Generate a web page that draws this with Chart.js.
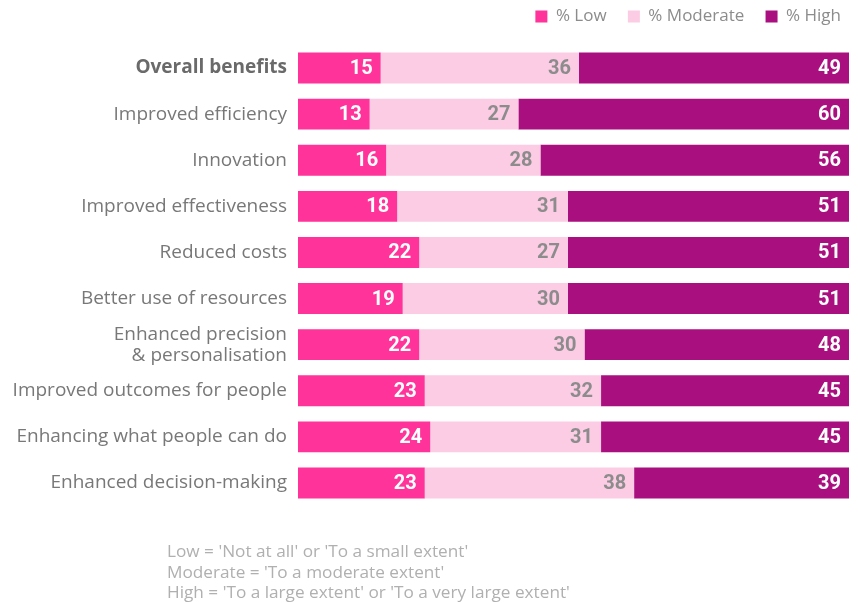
<!DOCTYPE html>
<html>
<head>
<meta charset="utf-8">
<script src="https://cdn.jsdelivr.net/npm/chart.js@4"></script>
<style>
  html, body { margin: 0; padding: 0; background: #fff; }
  #wrap { position: relative; width: 858px; height: 603px; }
  #note { position: absolute; left: 167px; top: 541px; font: 17.2px "Open Sans", sans-serif; color: #b0b0b0; line-height: 20.5px; }
</style>
</head>
<body>
<div id="wrap">
  <canvas id="chart1"></canvas>
  <div id="note">Low = 'Not at all' or 'To a small extent'<br>Moderate = 'To a moderate extent'<br>High = 'To a large extent' or 'To a very large extent'</div>
</div>
<script>
  // Survey: extent of benefits (%)
  const categories = ["Overall benefits", "Improved efficiency", "Innovation", "Improved effectiveness", "Reduced costs",
    "Better use of resources", ["Enhanced precision", "& personalisation"], "Improved outcomes for people",
    "Enhancing what people can do", "Enhanced decision-making"];
  const lowValues = [15, 13, 16, 18, 22, 19, 22, 23, 24, 23];
  const moderateValues = [36, 27, 28, 31, 27, 30, 30, 32, 31, 38];
  const highValues = [49, 60, 56, 51, 51, 51, 48, 45, 45, 39];

  // labels drawn at the inner right end of each segment
  const barLabels = {
    id: "barLabels",
    beforeLayout(chart) {
      // a bit more room under the legend
      const lg = chart.legend;
      if (lg && !lg._extra) {
        const fit = lg.fit.bind(lg);
        lg.fit = function() { fit(); this.height += 10; };
        lg._extra = true;
      }
    },
    afterDatasetsDraw(chart) {
      const ctx = chart.ctx;
      ctx.save();
      ctx.font = "bold 20px Roboto, sans-serif";
      ctx.textAlign = "right";
      ctx.textBaseline = "middle";
      chart.data.datasets.forEach((ds, i) => {
        chart.getDatasetMeta(i).data.forEach((bar, j) => {
          ctx.fillStyle = i === 1 ? "#8c8c8c" : "#ffffff";
          ctx.fillText(ds.data[j], bar.x - 8, bar.y + 1);
        });
      });
      ctx.restore();
    }
  };

  const canvas = document.getElementById("chart1");
  new Chart(canvas.getContext("2d"), {
    type: "bar",
    data: {
      labels: categories,
      datasets: [
        { label: "% Low", data: lowValues, backgroundColor: "#ff3399" },
        { label: "% Moderate", data: moderateValues, backgroundColor: "#fbcce3" },
        { label: "% High", data: highValues, backgroundColor: "#a90f7e" }
      ]
    },
    options: {
      indexAxis: "y",
      responsive: true,
      maintainAspectRatio: false,
      animation: false,
      datasets: { bar: { categoryPercentage: 1, barPercentage: 0.67 } },
      layout: { padding: { top: 0, right: 9, bottom: 97, left: 0 } },
      scales: {
        x: { stacked: true, min: 0, max: 100, display: false },
        y: {
          stacked: true,
          grid: { display: false },
          border: { display: false },
          afterFit(scale) { scale.width = 298; },
          ticks: {
            padding: 3,
            color: (c) => c.index === 0 ? "#6a6a6a" : "#787878",
            font: (c) => ({ family: "'Open Sans', sans-serif", size: 19, lineHeight: 1.1, weight: c.index === 0 ? "bold" : "normal" })
          }
        }
      },
      plugins: {
        tooltip: { enabled: false },
        legend: {
          position: "top",
          align: "end",
          labels: {
            boxWidth: 12,
            boxHeight: 12,
            padding: 8,
            color: "#8c8c8c",
            font: { family: "'Open Sans', sans-serif", size: 17 },
            generateLabels(chart) {
              // extra space between legend items
              const items = Chart.defaults.plugins.legend.labels.generateLabels(chart);
              items.forEach((it, i) => { if (i < items.length - 1) it.text += "   "; });
              return items;
            }
          }
        }
      }
    },
    plugins: [barLabels]
  });
</script>
</body>
</html>
